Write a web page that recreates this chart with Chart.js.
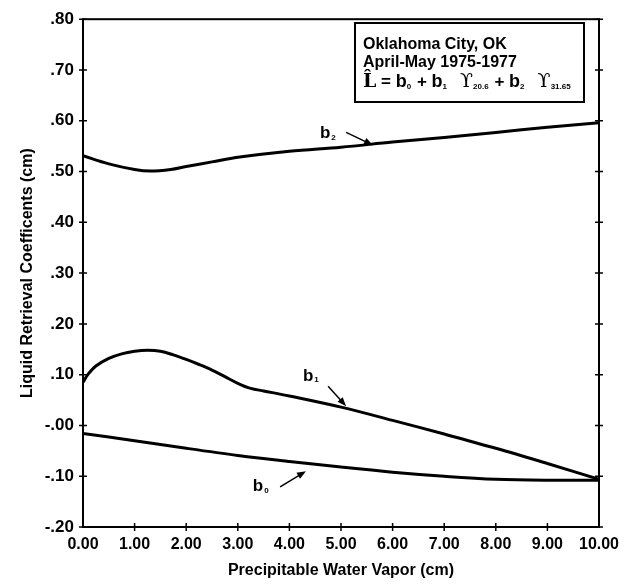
<!DOCTYPE html>
<html>
<head>
<meta charset="utf-8">
<script src="https://cdn.jsdelivr.net/npm/chart.js@4.4.1/dist/chart.umd.min.js"></script>
<style>
  html, body { margin: 0; padding: 0; background: #fff; }
  #wrap { width: 634px; height: 584px; }
</style>
</head>
<body>
<div id="wrap"><canvas id="chart" width="634" height="584"></canvas></div>
<script>
// Coefficients vs precipitable water vapor (cm)
const b2X = [0, 0.5, 1.0, 1.3, 1.7, 2.0, 2.5, 3.0, 4.0, 5.0, 6.0, 7.0, 8.0, 9.0, 10.0];
const b2Y = [0.531, 0.515, 0.504, 0.501, 0.504, 0.510, 0.519, 0.528, 0.540, 0.548, 0.558, 0.567, 0.577, 0.587, 0.596];

const b1X = [0, 0.1, 0.25, 0.5, 0.75, 1.0, 1.25, 1.5, 1.75, 2.0, 2.25, 2.5, 2.75, 3.0, 3.25, 3.5, 4.0, 5.0, 6.0, 7.0, 8.0, 9.0, 10.0];
const b1Y = [0.085, 0.101, 0.117, 0.132, 0.141, 0.146, 0.148, 0.146, 0.139, 0.130, 0.120, 0.109, 0.096, 0.083, 0.073, 0.068, 0.058, 0.036, 0.010, -0.017, -0.045, -0.075, -0.106];

const b0X = [0, 1, 2, 3, 4, 5, 6, 7, 8, 9, 10];
const b0Y = [-0.016, -0.030, -0.045, -0.059, -0.071, -0.082, -0.092, -0.100, -0.106, -0.108, -0.108];

const xTickLabels = ['0.00', '1.00', '2.00', '3.00', '4.00', '5.00', '6.00', '7.00', '8.00', '9.00', '10.00'];
const yTickLabels = ['-.20', '-.10', '-.00', '.10', '.20', '.30', '.40', '.50', '.60', '.70', '.80'];

// curve labels (b + subscript) and their arrows, in data units
const curveNames = ['b', 'b', 'b'];
const curveSubs = ['2', '1', '0'];
const curveLabelX = [4.75, 4.42, 3.45];
const curveLabelY = [0.575, 0.097, -0.120];
const arrowFrom = [[5.10, 0.577], [4.75, 0.077], [3.82, -0.121]];
const arrowTo = [[5.62, 0.552], [5.10, 0.038], [4.32, -0.090]];

const boxLines = ['Oklahoma City, OK', 'April-May 1975-1977'];

const toPts = (xs, ys) => xs.map((x, i) => ({ x: x, y: ys[i] }));

const FONT = "'Liberation Sans', Arial, sans-serif";

// frame, tick crosses, text box, labels
const decor = {
  id: 'decor',
  afterDraw(chart) {
    const ctx = chart.ctx;
    const a = chart.chartArea;
    const xs = chart.scales.x, ys = chart.scales.y;
    ctx.save();
    ctx.strokeStyle = '#000';
    ctx.lineWidth = 2;
    ctx.strokeRect(a.left, a.top, a.right - a.left, a.bottom - a.top);

    ctx.lineWidth = 1.5;
    ys.ticks.forEach(t => {
      const y = ys.getPixelForValue(t.value);
      ctx.beginPath();
      ctx.moveTo(a.left - 4, y); ctx.lineTo(a.left + 4, y);
      ctx.moveTo(a.right - 4, y); ctx.lineTo(a.right + 4, y);
      ctx.stroke();
    });
    xs.ticks.forEach(t => {
      if (t.value === xs.min || t.value === xs.max) return;
      const x = xs.getPixelForValue(t.value);
      ctx.beginPath();
      ctx.moveTo(x, a.bottom - 4); ctx.lineTo(x, a.bottom + 4);
      ctx.stroke();
    });

    // curve labels + arrows
    ctx.fillStyle = '#000';
    ctx.textBaseline = 'middle';
    curveNames.forEach((n, i) => {
      const px = xs.getPixelForValue(curveLabelX[i]);
      const py = ys.getPixelForValue(curveLabelY[i]);
      ctx.font = 'bold 17px ' + FONT;
      const w = ctx.measureText(n).width;
      ctx.textAlign = 'left';
      ctx.fillText(n, px - w / 2 - 3, py);
      ctx.font = 'bold 8px ' + FONT;
      ctx.fillText(curveSubs[i], px + w / 2 - 2, py + 4);

      const x1 = xs.getPixelForValue(arrowFrom[i][0]), y1 = ys.getPixelForValue(arrowFrom[i][1]);
      const x2 = xs.getPixelForValue(arrowTo[i][0]), y2 = ys.getPixelForValue(arrowTo[i][1]);
      const ang = Math.atan2(y2 - y1, x2 - x1);
      ctx.lineWidth = 1.5;
      ctx.beginPath();
      ctx.moveTo(x1, y1);
      ctx.lineTo(x2 - 6 * Math.cos(ang), y2 - 6 * Math.sin(ang));
      ctx.stroke();
      ctx.beginPath();
      ctx.moveTo(x2, y2);
      ctx.lineTo(x2 - 9 * Math.cos(ang) + 3.5 * Math.sin(ang), y2 - 9 * Math.sin(ang) - 3.5 * Math.cos(ang));
      ctx.lineTo(x2 - 9 * Math.cos(ang) - 3.5 * Math.sin(ang), y2 - 9 * Math.sin(ang) + 3.5 * Math.cos(ang));
      ctx.closePath();
      ctx.fill();
    });

    // legend box
    const bx = 355, by = 23, bw = 229, bh = 79;
    ctx.lineWidth = 2;
    ctx.strokeRect(bx, by, bw, bh);
    ctx.textAlign = 'left';
    ctx.font = 'bold 16px ' + FONT;
    ctx.fillText(boxLines[0], 363, 45);
    ctx.fillText(boxLines[1], 363, 63);

    // equation line: L̂ = b0 + b1 ϒ20.6 + b2 ϒ31.65
    const parts = [
      { t: 'L\u0302', f: 'bold 19px "DejaVu Serif", serif' },
      { t: ' = ', f: 'bold 17px ' + FONT },
      { t: 'b', f: 'bold 18px ' + FONT },
      { t: '0', f: 'bold 8px ' + FONT, sub: true },
      { t: ' + ', f: 'bold 17px ' + FONT },
      { t: 'b', f: 'bold 18px ' + FONT },
      { t: '1', f: 'bold 8px ' + FONT, sub: true },
      { t: '  \u03D2', f: '19px "DejaVu Serif", serif' },
      { t: '20.6', f: 'bold 8px ' + FONT, sub: true },
      { t: ' + ', f: 'bold 17px ' + FONT },
      { t: 'b', f: 'bold 18px ' + FONT },
      { t: '2', f: 'bold 8px ' + FONT, sub: true },
      { t: '  \u03D2', f: '19px "DejaVu Serif", serif' },
      { t: '31.65', f: 'bold 8px ' + FONT, sub: true }
    ];
    let cx = 363;
    parts.forEach(p => {
      ctx.font = p.f;
      ctx.fillText(p.t, cx, p.sub ? 87 : 82);
      cx += ctx.measureText(p.t).width + (p.sub ? 1 : 0);
    });
    ctx.restore();
  }
};

new Chart(document.getElementById('chart'), {
  type: 'line',
  data: {
    datasets: [
      { label: 'b2', data: toPts(b2X, b2Y) },
      { label: 'b1', data: toPts(b1X, b1Y) },
      { label: 'b0', data: toPts(b0X, b0Y) }
    ]
  },
  options: {
    responsive: false,
    animation: false,
    events: [],
    layout: { padding: { top: 15, right: 35, left: 0, bottom: 0 } },
    elements: {
      line: { borderColor: '#000', borderWidth: 3, tension: 0.35, fill: false },
      point: { radius: 0 }
    },
    plugins: { legend: { display: false }, tooltip: { enabled: false } },
    scales: {
      x: {
        type: 'linear', min: 0, max: 10,
        afterFit: s => { s.height = 57; },
        grid: { display: false, drawTicks: false },
        border: { display: false },
        ticks: {
          stepSize: 1, padding: 8, color: '#000', maxRotation: 0,
          font: { family: FONT, size: 16, weight: 'bold' },
          callback: (v, i) => xTickLabels[i]
        },
        title: {
          display: true, text: 'Precipitable Water Vapor (cm)', color: '#000',
          font: { family: FONT, size: 16, weight: 'bold' },
          padding: { top: 0, bottom: 4 }
        }
      },
      y: {
        type: 'linear', min: -0.2, max: 0.8,
        afterFit: s => { s.width = 83; },
        grid: { display: false, drawTicks: false },
        border: { display: false },
        ticks: {
          stepSize: 0.1, padding: 9, color: '#000',
          font: { family: FONT, size: 17, weight: 'bold' },
          callback: (v, i) => yTickLabels[i]
        },
        title: {
          display: true, text: 'Liquid Retrieval Coefficents (cm)', color: '#000',
          font: { family: FONT, size: 16, weight: 'bold' },
          padding: { top: 18, bottom: 0 }
        }
      }
    }
  },
  plugins: [decor]
});
</script>
</body>
</html>
